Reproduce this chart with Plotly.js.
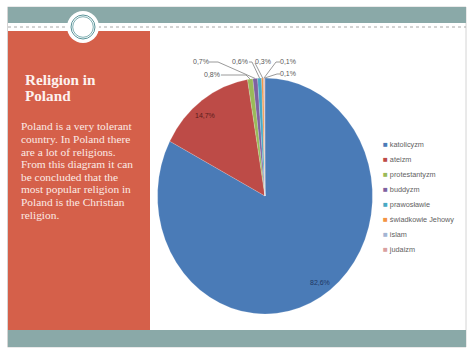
<!DOCTYPE html>
<html><head><meta charset="utf-8">
<script src="https://cdn.plot.ly/plotly-3.0.1.min.js"></script>
<style>html,body{margin:0;padding:0;background:#fff;}#chart{width:474px;height:355px;}</style>
</head><body><div id="chart"></div>
<script>
// ---- data ----
const religions = ['katolicyzm','ateizm','protestantyzm','buddyzm','prawosławie','świadkowie Jehowy','islam','judaizm'];
const shares = [82.6, 14.7, 0.8, 0.7, 0.6, 0.3, 0.1, 0.1];
const sliceColors = ['#4a7bb7','#bd4b47','#9aba59','#7e62a0','#48a9c4','#f39343','#a3b5d3','#d9a0a0'];
const titleLines = ['Religion in', 'Poland'];
const bodyLines = ['Poland is a very tolerant','country. In Poland there','are a lot of religions.',
  'From this diagram it can','be concluded that the','most popular religion in',
  'Poland is the Christian','religion.'];

// ---- geometry (pixels) ----
const W = 474, H = 355;
const X = p => p / W, Y = p => 1 - p / H;
const CX = 265, CY = 196, RY = 118, RX = 107.5;
const total = shares.reduce((a, b) => a + b, 0);
function edgePoint(i) {
  let cum = 0; for (let k = 0; k < i; k++) cum += shares[k];
  const mid = (cum + shares[i] / 2) / total * 2 * Math.PI;
  return [CX + RX * Math.sin(mid), CY - RY * Math.cos(mid)];
}
const fmt = v => v.toFixed(1).replace('.', ',') + '%';

// label placement (pixels): text centre and leader-line bends
const labelPos = [[320,282],[205,115],[212,75],[201,62],[240,62],[263,62],[288,62],[288,74]];
const leaderBends = {2:[[221,75],[246,75]], 3:[[209,62],[218,62]], 4:[[249,62],[252,62]],
  5:[[255,63]], 6:[[280,62],[276,62]], 7:[[280,74],[277,74]]};
const labelColors = ['#1f3864','#5a1d1b','#595959','#595959','#595959','#595959','#595959','#595959'];

const shapes = [];
const annotations = [];
const rect = (x0,y0,x1,y1,fill) => shapes.push({type:'rect',xref:'paper',yref:'paper',layer:'below',
  x0:X(x0),x1:X(x1),y0:Y(y1),y1:Y(y0),fillcolor:fill,line:{width:0}});
// slide frame
shapes.push({type:'rect',xref:'paper',yref:'paper',layer:'below',x0:X(7.5),x1:X(466),y0:Y(347),y1:Y(7),
  fillcolor:'#ffffff',line:{color:'#d4d4d4',width:1}});
rect(8,7,466,23,'#8aa9a8');
rect(8,330,466,347,'#8aa9a8');
rect(8,31,150,330,'#d5604a');
shapes.push({type:'line',xref:'paper',yref:'paper',layer:'below',x0:X(8),x1:X(466),y0:Y(27),y1:Y(27),
  line:{color:'#a8a8a8',width:1,dash:'dot'}});
const circ = (r, fill, stroke, w) => shapes.push({type:'circle',xref:'paper',yref:'paper',layer:'below',
  x0:X(83-r),x1:X(83+r),y0:Y(27+r),y1:Y(27-r),fillcolor:fill,line:{color:stroke,width:w}});
circ(16,'#ffffff','#ffffff',0);
circ(12,'rgba(0,0,0,0)','#5a9499',1);
circ(10.3,'rgba(0,0,0,0)','#7fb0b3',1);

// value labels + leader lines
shares.forEach((v, i) => {
  const [tx, ty] = labelPos[i];
  annotations.push({xref:'paper',yref:'paper',x:X(tx),y:Y(ty),xanchor:'center',yanchor:'middle',
    text:fmt(v),showarrow:false,borderpad:0,font:{family:'Liberation Sans, Arial',size:7,color:labelColors[i]}});
  if (leaderBends[i]) {
    const pts = leaderBends[i].concat([edgePoint(i)]);
    const d = pts.map((p, k) => (k ? 'L' : 'M') + X(p[0]).toFixed(5) + ',' + Y(p[1]).toFixed(5)).join(' ');
    shapes.push({type:'path',xref:'paper',yref:'paper',path:d,line:{color:'#808080',width:0.8}});
  }
});

// legend built from categories
religions.forEach((name, i) => {
  annotations.push({xref:'paper',yref:'paper',x:X(382),y:Y(144.5 + 15 * i),xanchor:'left',yanchor:'middle',
    showarrow:false,borderpad:0,
    text:'<span style="color:' + sliceColors[i] + ';font-size:8px">■</span> ' + name,
    font:{family:'Liberation Sans, Arial',size:7.3,color:'#5f5f5f'}});
});

// panel text
titleLines.forEach((t, i) => annotations.push({xref:'paper',yref:'paper',x:X(24),y:Y(84 + 17 * i - 5),
  xanchor:'left',yanchor:'middle',showarrow:false,borderpad:0,text:'<b>' + t + '</b>',
  font:{family:'Liberation Serif, serif',size:15.2,color:'#fdf2ef'}}));
bodyLines.forEach((t, i) => annotations.push({xref:'paper',yref:'paper',x:X(19.5),y:Y(130 + 12.6 * i - 3.7),
  xanchor:'left',yanchor:'middle',showarrow:false,borderpad:0,text:t,
  font:{family:'Liberation Serif, serif',size:11.4,color:'#fbeae5'}}));

const data = [{
  type:'pie', labels:religions, values:shares, sort:false, direction:'clockwise', rotation:0,
  marker:{colors:sliceColors, line:{color:'rgba(255,255,255,0.35)', width:0.5}},
  textinfo:'none', hoverinfo:'skip', showlegend:false,
  domain:{x:[(CX - RY) / W, (CX + RY) / W], y:[Y(CY + RY), Y(CY - RY)]}
}];
const layout = {width:W, height:H, margin:{l:0,r:0,t:0,b:0}, paper_bgcolor:'#ffffff',
  showlegend:false, shapes:shapes, annotations:annotations};

Plotly.newPlot('chart', data, layout, {staticPlot:true}).then(gd => {
  const pl = gd.querySelector('.pielayer');
  const sx = RX / RY;
  if (pl) pl.setAttribute('transform', 'matrix(' + sx + ',0,0,1,' + (CX * (1 - sx)) + ',0)');
});
</script>
</body></html>
